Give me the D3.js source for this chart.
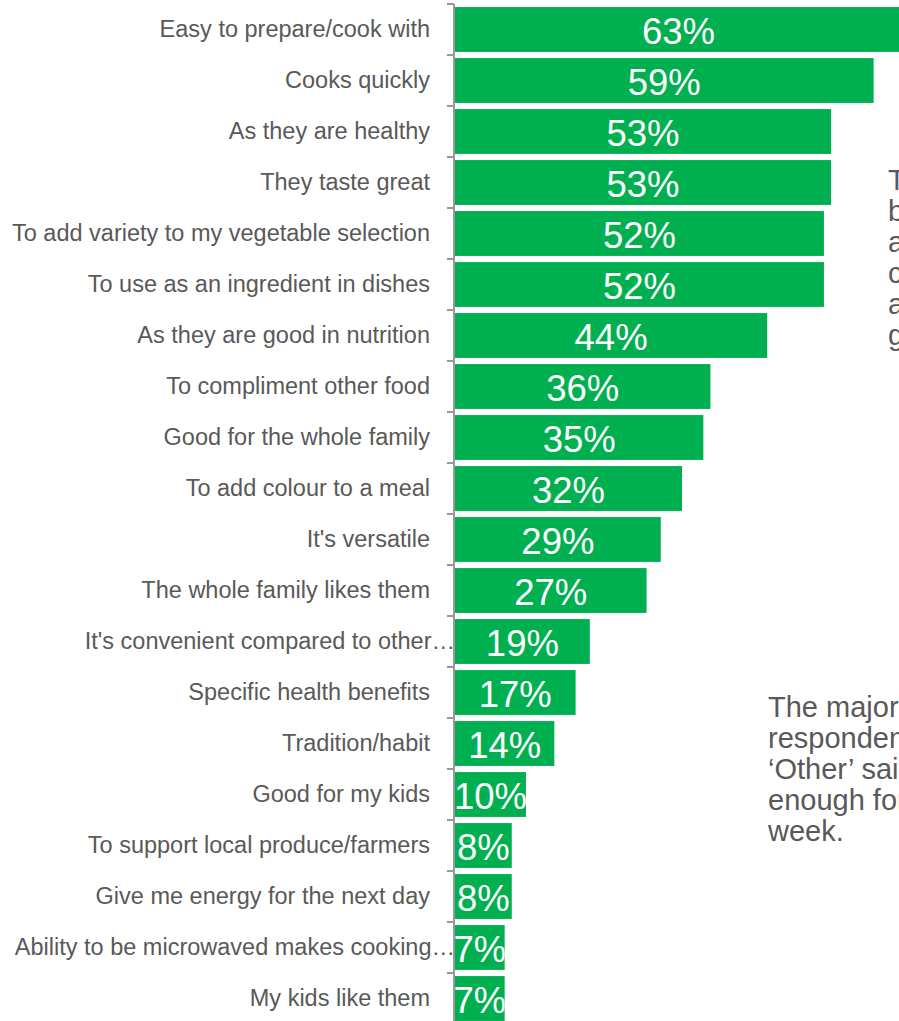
<!DOCTYPE html>
<html>
<head>
<meta charset="utf-8">
<script src="https://cdn.jsdelivr.net/npm/d3@7"></script>
<style>
  html, body { margin: 0; padding: 0; background: #ffffff; overflow: hidden; }
  svg { display: block; }
</style>
</head>
<body>
<div id="chart"></div>
<script>
// Reasons for buying: share of respondents giving each reason
const categories = [
  "Easy to prepare/cook with",
  "Cooks quickly",
  "As they are healthy",
  "They taste great",
  "To add variety to my vegetable selection",
  "To use as an ingredient in dishes",
  "As they are good in nutrition",
  "To compliment other food",
  "Good for the whole family",
  "To add colour to a meal",
  "It's versatile",
  "The whole family likes them",
  "It's convenient compared to other…",
  "Specific health benefits",
  "Tradition/habit",
  "Good for my kids",
  "To support local produce/farmers",
  "Give me energy for the next day",
  "Ability to be microwaved makes cooking…",
  "My kids like them"
];
const values = [63, 59, 53, 53, 52, 52, 44, 36, 35, 32, 29, 27, 19, 17, 14, 10, 8, 8, 7, 7];

// Commentary text boxes beside the chart
const noteTop = [
  "The top reasons",
  "buying are ease",
  "and speed of",
  "cooking, health",
  "and that they",
  "great"
];
const noteBottom = [
  "The majority of",
  "respondents who chose",
  "‘Other’ said it lasts",
  "enough for the whole",
  "week."
];

const W = 899, H = 1021;
const axisX = 454;
const barColor = "#00B050";
const textColor = "#595959";
const axisColor = "#999999";

const svg = d3.select("#chart").append("svg")
  .attr("width", W).attr("height", H)
  .attr("viewBox", `0 0 ${W} ${H}`);

const data = categories.map((c, i) => ({ cat: c, value: values[i], idx: i }));

const x = d3.scaleLinear().domain([0, 63]).range([axisX + 1, 902]);
const y = d3.scaleBand().domain(categories)
  .range([4, 4 + 51 * categories.length])
  .paddingInner(0.12).paddingOuter(0.06);

const defs = svg.append("defs");
defs.selectAll("clipPath").data(data).join("clipPath")
  .attr("id", d => "clip" + d.idx)
  .append("rect")
  .attr("x", x(0))
  .attr("y", d => y(d.cat))
  .attr("width", d => x(d.value) - x(0))
  .attr("height", y.bandwidth());

// Bars
svg.append("g").selectAll("rect").data(data).join("rect")
  .attr("x", x(0))
  .attr("y", d => y(d.cat))
  .attr("width", d => x(d.value) - x(0))
  .attr("height", y.bandwidth())
  .attr("fill", barColor);

// Value labels, kept inside their bars
svg.append("g").selectAll("text").data(data).join("text")
  .attr("clip-path", d => `url(#clip${d.idx})`)
  .attr("x", d => (x(0) + x(d.value)) / 2)
  .attr("y", d => y(d.cat) + y.bandwidth() / 2)
  .attr("dy", "0.4em")
  .attr("text-anchor", "middle")
  .attr("font-family", "'Liberation Sans', Arial, sans-serif")
  .attr("font-size", 36.5)
  .attr("fill", "#ffffff")
  .text(d => d.value + "%");

// Category axis: line plus ticks at the band boundaries
const step = y.step();
const bounds = d3.range(categories.length + 1).map(i => y.range()[0] + i * step);
const axisG = svg.append("g");
axisG.append("line")
  .attr("x1", axisX).attr("x2", axisX)
  .attr("y1", bounds[0]).attr("y2", H)
  .attr("stroke", axisColor).attr("stroke-width", 2);
axisG.selectAll("line.tick").data(bounds).join("line")
  .attr("class", "tick")
  .attr("x1", axisX - 7).attr("x2", axisX)
  .attr("y1", d => d).attr("y2", d => d)
  .attr("stroke", axisColor).attr("stroke-width", 2);

// Category labels (truncated ones run up to the axis)
svg.append("g").selectAll("text").data(data).join("text")
  .attr("x", d => d.cat.endsWith("…") ? axisX + 1 : 430)
  .attr("y", d => y(d.cat) + y.bandwidth() / 2)
  .attr("dy", "0.32em")
  .attr("text-anchor", "end")
  .attr("font-family", "'Liberation Sans', Arial, sans-serif")
  .attr("font-size", 23.5)
  .attr("fill", textColor)
  .text(d => d.cat);

// Side commentary
function note(lines, left, firstBaseline, lineGap) {
  svg.append("text")
    .attr("font-family", "'Liberation Sans', Arial, sans-serif")
    .attr("font-size", 29)
    .attr("fill", textColor)
    .selectAll("tspan").data(lines).join("tspan")
    .attr("x", left)
    .attr("y", (d, i) => firstBaseline + i * lineGap)
    .text(d => d);
}
note(noteTop, 888, 190, 31);
note(noteBottom, 768, 717, 31);
</script>
</body>
</html>
